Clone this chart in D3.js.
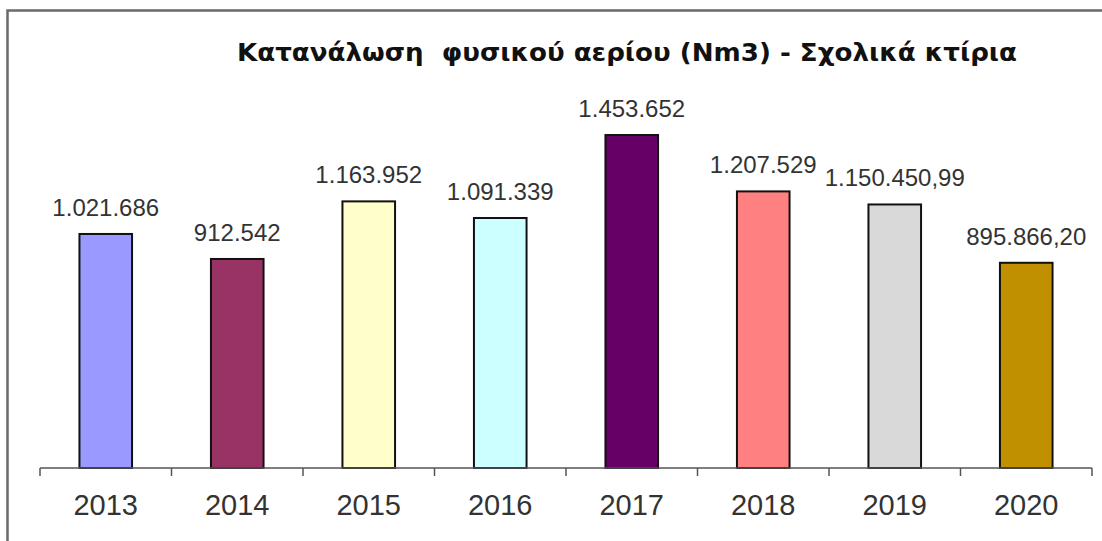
<!DOCTYPE html>
<html><head><meta charset="utf-8">
<script src="https://cdn.jsdelivr.net/npm/d3@7"></script>
<style>body{margin:0;background:#fff;}svg{display:block;}</style>
</head><body>
<script>
const years = ["2013","2014","2015","2016","2017","2018","2019","2020"];
const values = [1021686, 912542, 1163952, 1091339, 1453652, 1207529, 1150450.99, 895866.20];
const valueLabels = ["1.021.686","912.542","1.163.952","1.091.339","1.453.652","1.207.529","1.150.450,99","895.866,20"];
const colors = ["#9999FF","#993366","#FFFFCC","#CCFFFF","#660066","#FF8080","#D9D9D9","#C09000"];
const title = "Κατανάλωση  φυσικού αερίου (Nm3) - Σχολικά κτίρια";

const W = 1102, H = 541;
const svg = d3.select("body").append("svg").attr("width", W).attr("height", H);
svg.append("rect").attr("width", W).attr("height", H).attr("fill", "#fff");
// frame
svg.append("path").attr("d", `M7.5,${H} V10.5 H${W}`).attr("fill","none").attr("stroke","#6a6a6a").attr("stroke-width",2.5);

const x0 = 40, x1 = 1092, yBase = 468;
const x = d3.scaleBand().domain(years).range([x0, x1]).paddingInner(0.6).paddingOuter(0.3);
const y = d3.scaleLinear().domain([0, 1600000]).range([yBase, yBase - 366.5]);

svg.selectAll("rect.bar").data(years).join("rect").attr("class","bar")
  .attr("x", d => x(d)).attr("width", x.bandwidth())
  .attr("y", (d,i) => y(values[i])).attr("height", (d,i) => yBase - y(values[i]))
  .attr("fill", (d,i) => colors[i]).attr("stroke", "#111").attr("stroke-width", 2);

svg.selectAll("text.val").data(years).join("text").attr("class","val")
  .attr("x", d => x(d) + x.bandwidth()/2).attr("y", (d,i) => y(values[i]) - 18)
  .attr("text-anchor","middle").attr("font-family","Liberation Sans, Arial, sans-serif")
  .attr("font-size", 24).attr("fill","#333").text((d,i) => valueLabels[i]);

// axis
const step = (x1 - x0) / years.length;
const tickPos = d3.range(years.length + 1).map(i => x0 + i*step);
svg.append("line").attr("x1", x0).attr("x2", x1).attr("y1", yBase).attr("y2", yBase)
  .attr("stroke","#555").attr("stroke-width",1.5);
svg.selectAll("line.tick").data(tickPos).join("line").attr("class","tick")
  .attr("x1", d=>d).attr("x2", d=>d).attr("y1", yBase).attr("y2", yBase+8)
  .attr("stroke","#555").attr("stroke-width",1.5);
svg.selectAll("text.year").data(years).join("text").attr("class","year")
  .attr("x", d => x(d) + x.bandwidth()/2).attr("y", 515)
  .attr("text-anchor","middle").attr("font-family","Liberation Sans, Arial, sans-serif")
  .attr("font-size", 29).attr("fill","#333").text(d => d);

svg.append("text").attr("x", 237).attr("y", 61)
  .attr("font-family","DejaVu Sans, sans-serif").attr("font-weight","bold")
  .attr("font-size", 24).attr("fill","#111")
  .attr("textLength", 780).attr("lengthAdjust","spacingAndGlyphs")
  .style("white-space","pre").text(title);
</script>
</body></html>
